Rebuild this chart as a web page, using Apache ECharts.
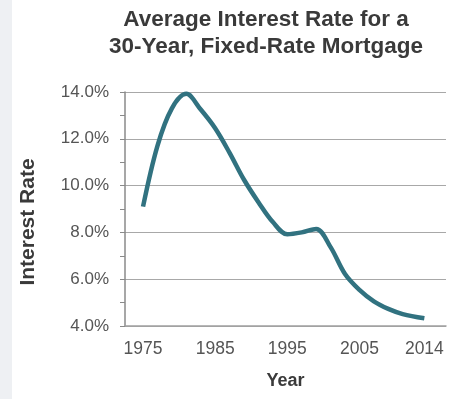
<!DOCTYPE html>
<html>
<head>
<meta charset="utf-8">
<script src="https://cdn.jsdelivr.net/npm/echarts@6/dist/echarts.min.js"></script>
<style>
  html, body { margin: 0; padding: 0; background: #fff; }
  #chart { width: 474px; height: 399px; }
</style>
</head>
<body>
<div id="chart"></div>
<script>
const years = [1975, 1977, 1979, 1981, 1983, 1985, 1987, 1989, 1991, 1993,
  1995, 1997, 1999, 2001, 2003, 2005, 2007, 2009, 2011, 2014];
const rates = [9.1, 11.7, 13.3, 13.92, 13.25, 12.45, 11.4, 10.25, 9.29, 8.44,
  7.92, 8.0, 8.15, 7.37, 6.22, 5.54, 5.05, 4.73, 4.51, 4.33];
const yearLabels = [1975, 1985, 1995, 2005, 2014];

const chart = echarts.init(document.getElementById('chart'));

chart.setOption({
  animation: false,
  backgroundColor: '#fff',
  graphic: [{
    type: 'rect',
    shape: { x: 0, y: 0, width: 12, height: 399 },
    style: { fill: '#eef0f3' },
    silent: true,
  }],
  title: {
    text: 'Average Interest Rate for a\n30-Year, Fixed-Rate Mortgage',
    left: 266,
    top: 6,
    padding: 0,
    textAlign: 'center',
    textStyle: {
      fontFamily: 'Liberation Sans, Arial, sans-serif',
      fontSize: 22.5,
      fontWeight: 'bold',
      color: '#3a3a3a',
      lineHeight: 27,
    },
  },
  grid: {
    left: 125,
    right: 28,
    top: 92,
    bottom: 73,
  },
  xAxis: {
    type: 'value',
    min: 1972.5,
    max: 2017,
    name: 'Year',
    nameLocation: 'middle',
    nameGap: 46,
    nameTextStyle: {
      fontFamily: 'Liberation Sans, Arial, sans-serif',
      fontSize: 18,
      fontWeight: 'bold',
      color: '#3a3a3a',
    },
    axisLine: { show: true, lineStyle: { color: '#a0a0a0', width: 1.5 } },
    axisTick: { show: false },
    splitLine: { show: false },
    axisLabel: {
      customValues: yearLabels,
      formatter: v => String(v),
      fontFamily: 'Liberation Sans, Arial, sans-serif',
      fontSize: 17.5,
      color: '#555',
      margin: 14,
    },
  },
  yAxis: {
    type: 'value',
    min: 4,
    max: 14,
    interval: 2,
    name: 'Interest Rate',
    nameLocation: 'middle',
    nameGap: 86,
    nameTextStyle: {
      fontFamily: 'Liberation Sans, Arial, sans-serif',
      fontSize: 21,
      fontWeight: 'bold',
      color: '#3a3a3a',
      padding: [0, 26, 0, 0],
    },
    axisLine: { show: true, lineStyle: { color: '#8a8a8a', width: 1.5 } },
    axisTick: { show: true, length: 5, lineStyle: { color: '#8a8a8a' } },
    minorTick: { show: true, splitNumber: 2, length: 5, lineStyle: { color: '#8a8a8a' } },
    splitLine: { show: true, lineStyle: { color: '#a8a8a8', width: 1.2 } },
    axisLabel: {
      formatter: v => v.toFixed(1) + '%',
      fontFamily: 'Liberation Sans, Arial, sans-serif',
      fontSize: 17,
      color: '#555',
      margin: 16,
    },
  },
  series: [{
    type: 'line',
    data: years.map((y, i) => [y, rates[i]]),
    smooth: 0.35,
    showSymbol: false,
    lineStyle: { color: '#317280', width: 4.5 },
  }],
});
</script>
</body>
</html>
